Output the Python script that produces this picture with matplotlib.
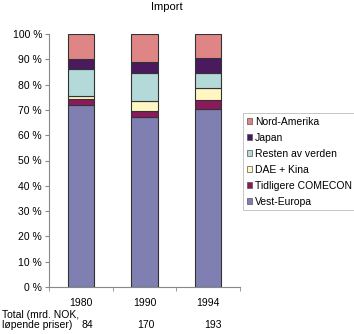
import matplotlib
matplotlib.use("Agg")
import matplotlib.pyplot as plt
import numpy as np
from matplotlib.patches import Patch

years = ["1980", "1990", "1994"]
totals = ["84", "170", "193"]
series = ["Vest-Europa", "Tidligere COMECON", "DAE + Kina", "Resten av verden", "Japan", "Nord-Amerika"]
vest_europa = [72.1, 67.0, 70.3]
comecon = [2.2, 2.6, 3.6]
dae_kina = [1.0, 4.1, 4.9]
resten = [10.7, 11.0, 5.9]
japan = [4.0, 4.3, 6.0]
nord_amerika = [10.0, 11.0, 9.3]
colors = ["#7f7fb2", "#8b1a5c", "#fff6c2", "#b3d9d9", "#4b1a5e", "#e08585"]

values = [vest_europa, comecon, dae_kina, resten, japan, nord_amerika]

plt.rcParams['font.family'] = ['Liberation Sans', 'DejaVu Sans']
fig = plt.figure(figsize=(3.54, 3.34), dpi=100)
ax = fig.add_axes([49/354, 1-287/334, 191/354, 253/334])

x = np.arange(len(years))
bottom = np.zeros(len(years))
for name, vals, c in zip(series, values, colors):
    ax.bar(x, vals, width=0.41, bottom=bottom, color=c, edgecolor="#333333", linewidth=0.8, label=name)
    bottom += np.array(vals)

ax.set_xlim(-0.5, 2.5)
ax.set_ylim(0, 100)
ax.set_yticks(np.arange(0, 101, 10))
ax.set_yticklabels([f"{v} %" for v in range(0, 101, 10)], fontsize=7.5)
ax.set_xticks(x)
ax.set_xticklabels(years, fontsize=7.5)
ax.tick_params(axis='x', length=0, pad=8)
ax.set_xticks([-0.5, 0.5, 1.5, 2.5], minor=True)
ax.tick_params(axis='x', which='minor', length=3, direction='out', color="#888888")
ax.tick_params(axis='y', length=3, direction='out', color="#888888", pad=2)
for s in ["top", "right"]:
    ax.spines[s].set_visible(False)
for s in ["left", "bottom"]:
    ax.spines[s].set_color("#888888")
    ax.spines[s].set_linewidth(0.8)

fig.text(167/354, 1-7/334, "Import", ha="center", va="center", fontsize=8)

handles = [Patch(facecolor=c, edgecolor="#555555", linewidth=0.5, label=n) for n, c in zip(series, colors)][::-1]
leg = fig.legend(handles=handles, loc="upper left", bbox_to_anchor=(243/354, 1-113/334),
                 fontsize=7.5, frameon=True, fancybox=False, handlelength=0.55, handleheight=0.55,
                 handletextpad=0.25, labelspacing=0.58, borderpad=0.35, borderaxespad=0)
leg.get_frame().set_edgecolor("#aaaaaa")
leg.get_frame().set_linewidth(0.6)

fig.text(2/354, 1-314.5/334, "Total (mrd. NOK,", ha="left", va="center", fontsize=7.5)
fig.text(2/354, 1-325.5/334, "løpende priser)", ha="left", va="center", fontsize=7.5)
for xi, t in zip([87, 146, 213], totals):
    fig.text(xi/354, 1-325.5/334, t, ha="center", va="center", fontsize=7.5)

fig.savefig("out.png", dpi=100)
